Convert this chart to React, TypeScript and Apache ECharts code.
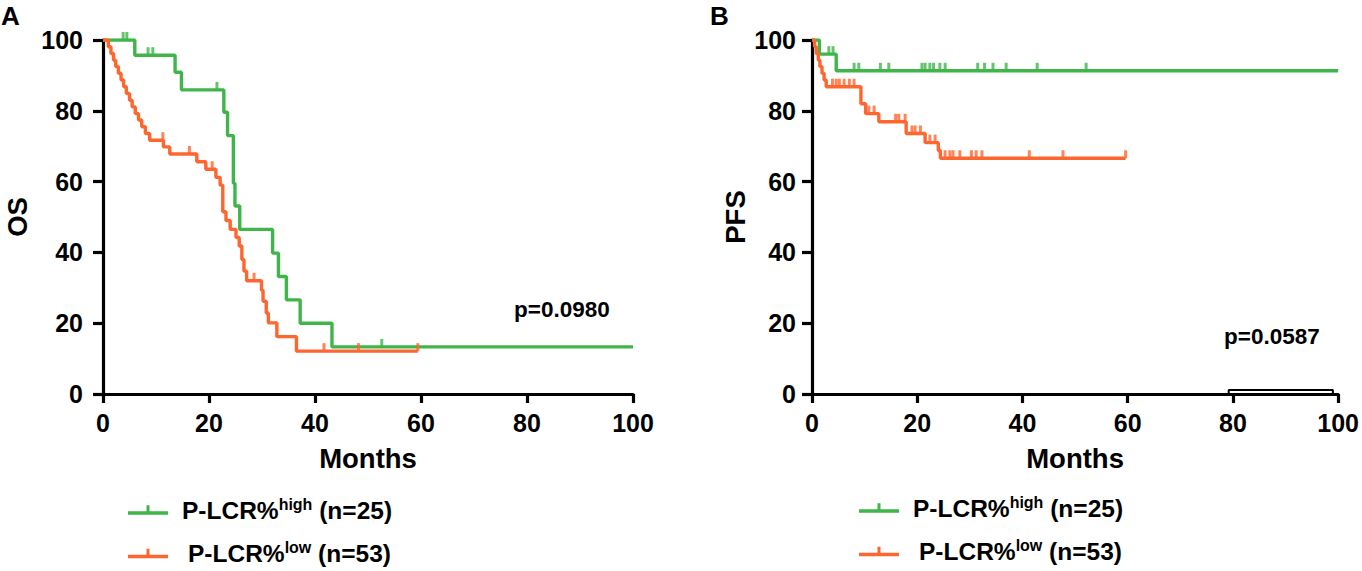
import React, { useEffect, useRef } from "react";
import * as echarts from "echarts";

// ---------- data ----------
const xTicks = [0, 20, 40, 60, 80, 100];
const yTicks = [0, 20, 40, 60, 80, 100];

const NAME_HIGH = "P-LCR%high (n=25)";
const NAME_LOW = "P-LCR%low (n=53)";

// OS, P-LCR% high: [month, survival % after the drop]
const osHigh = [
  [0, 100], [6.0, 95.7], [13.6, 90.9], [14.8, 85.9], [22.8, 79.6], [23.5, 73.0],
  [24.6, 59.5], [24.9, 53.1], [25.8, 46.5], [32.0, 39.8], [33.1, 33.2], [34.6, 26.6],
  [37.2, 20.0], [43.2, 13.3], [100, 13.3],
];
const osHighCensor = [3.8, 4.5, 8.5, 9.4, 21.5, 52.6];

// OS, P-LCR% low
const osLow = [
  [0, 100], [1.0, 98.1], [1.5, 96.2], [2.0, 94.3], [2.4, 92.5], [2.9, 90.6], [3.4, 88.7],
  [3.9, 86.8], [4.4, 84.9], [5.0, 83.0], [5.5, 81.1], [6.1, 79.2], [6.7, 77.4], [7.3, 75.5],
  [8.0, 73.6], [8.8, 71.7], [11.4, 69.8], [12.6, 67.8], [17.7, 65.6], [19.4, 63.5],
  [21.3, 61.2], [22.1, 59.0], [22.6, 51.5], [23.2, 49.0], [24.0, 46.5], [25.1, 44.2],
  [25.7, 41.8], [26.2, 38.0], [26.6, 34.7], [27.1, 32.0], [29.9, 29.3], [30.2, 26.2],
  [30.8, 22.9], [31.2, 20.1], [32.8, 16.2], [36.5, 12.1], [59.4, 12.1],
];
const osLowCensor = [11.3, 16.3, 20.6, 28.5, 41.7, 48.2, 59.4];

// PFS, P-LCR% high
const pfsHigh = [[0, 100], [1.4, 96.0], [4.6, 91.3], [100, 91.3]];
const pfsHighCensor = [
  3.2, 4.0, 8.0, 8.9, 13.0, 14.6, 20.9, 21.5, 22.4, 23.1, 24.3, 25.3, 31.5, 32.8, 34.4,
  36.9, 42.8, 52.1,
];

// PFS, P-LCR% low
const pfsLow = [
  [0, 100], [0.5, 98.1], [0.8, 96.2], [1.2, 94.3], [1.5, 92.5], [1.9, 90.6], [2.3, 88.7],
  [2.7, 86.8], [9.3, 82.0], [10.2, 79.2], [12.7, 76.9], [17.9, 73.6], [21.5, 71.0],
  [24.0, 68.8], [24.4, 66.6], [59.6, 66.6],
];
const pfsLowCensor = [
  3.9, 4.6, 5.2, 6.1, 7.1, 8.0, 10.8, 11.8, 15.9, 16.5, 17.7, 19.0, 19.6, 20.6, 22.4, 23.4,
  25.3, 26.2, 26.8, 28.1, 30.3, 31.2, 32.3, 41.3, 47.7, 59.6,
];

// small black segment seen near the PFS x-axis
const pfsBlack = [[79.2, 0], [79.2, 1.1], [99.0, 1.1], [99.0, 0]];

const pValues = ["p=0.0980", "p=0.0587"];

// ---------- styles ----------
const GREEN = "#3fb54a";
const ORANGE = "#fe6630";
const FONT = "'Liberation Sans', Arial, Helvetica, sans-serif";

function valueAt(curve: number[][], t: number): number {
  let v = curve[0][1];
  for (const [x, y] of curve) {
    if (x <= t) v = y;
    else break;
  }
  return v;
}

function censorPoints(curve: number[][], times: number[]) {
  return times.map((t) => [t, valueAt(curve, t)]);
}

const TICK_ICON = "path://M0,6H40V9.5H0Z M18.5,0H21.5V6H18.5Z";

function xAxis(gridIndex: number) {
  return {
    type: "value",
    gridIndex,
    min: xTicks[0],
    max: xTicks[xTicks.length - 1],
    interval: xTicks[1] - xTicks[0],
    name: "Months",
    nameLocation: "middle",
    nameGap: 50,
    nameTextStyle: { fontSize: 27.5, fontWeight: "bold", color: "#000", fontFamily: FONT },
    axisLine: { lineStyle: { color: "#000", width: 3.2 } },
    axisTick: { length: 9, lineStyle: { color: "#000", width: 3.2 } },
    axisLabel: { margin: 16, fontSize: 25, fontWeight: "bold", color: "#000", fontFamily: FONT },
    splitLine: { show: false },
  };
}

function yAxis(gridIndex: number, name: string, margin: number, nameGap: number) {
  return {
    type: "value",
    gridIndex,
    min: yTicks[0],
    max: yTicks[yTicks.length - 1],
    interval: yTicks[1] - yTicks[0],
    name,
    nameLocation: "middle",
    nameGap,
    nameTextStyle: { fontSize: 27.5, fontWeight: "bold", color: "#000", fontFamily: FONT },
    axisLine: { onZero: false, lineStyle: { color: "#000", width: 3.2 } },
    axisTick: { length: 10, lineStyle: { color: "#000", width: 3.2 } },
    axisLabel: { margin, fontSize: 25, fontWeight: "bold", color: "#000", fontFamily: FONT },
    splitLine: { show: false },
  };
}

function curveSeries(name: string, data: number[][], color: string, axisIndex: number) {
  return {
    type: "line",
    name,
    xAxisIndex: axisIndex,
    yAxisIndex: axisIndex,
    data,
    step: "end",
    symbol: "none",
    showSymbol: false,
    lineStyle: { color, width: 3.4 },
    itemStyle: { color },
    z: 3,
  };
}

function censorSeries(name: string, data: number[][], color: string, axisIndex: number) {
  return {
    type: "scatter",
    name,
    xAxisIndex: axisIndex,
    yAxisIndex: axisIndex,
    data,
    symbol: "rect",
    symbolSize: [3, 8],
    symbolOffset: [0, -4],
    itemStyle: { color },
    z: 4,
  };
}

function legend(left: number, top: number) {
  return {
    left,
    top,
    padding: 0,
    orient: "vertical",
    itemWidth: 40,
    itemHeight: 9.5,
    itemGap: 17,
    selectedMode: false,
    data: [
      { name: NAME_HIGH, icon: TICK_ICON },
      { name: NAME_LOW, icon: TICK_ICON },
    ],
    formatter: (n: string) =>
      n === NAME_HIGH
        ? "{g|}{a|P-LCR%}{s|high}{a| (n=25)}"
        : "{h|}{a|P-LCR%}{s|low}{a| (n=53)}",
    textStyle: {
      rich: {
        g: { width: 9 },
        h: { width: 15 },
        a: { fontSize: 24.5, fontWeight: "bold", color: "#000", fontFamily: FONT, lineHeight: 28 },
        s: {
          fontSize: 16,
          fontWeight: "bold",
          color: "#000",
          fontFamily: FONT,
          lineHeight: 16,
          verticalAlign: "top",
        },
      },
    },
  };
}

export default function App() {
  const ref = useRef<HTMLDivElement>(null);

  useEffect(() => {
    if (!ref.current) return;
    const chart = echarts.init(ref.current, undefined, { renderer: "svg" });
    const textStyle = (fontSize: number) => ({
      fontSize,
      fontWeight: "bold",
      fill: "#000",
      fontFamily: FONT,
    });
    chart.setOption({
      animation: false,
      backgroundColor: "#fff",
      grid: [
        { left: 103, top: 40, width: 530, height: 354 },
        { left: 812, top: 40, width: 531, height: 354 },
      ],
      xAxis: [xAxis(0), xAxis(1)],
      yAxis: [yAxis(0, "OS", 20, 72), yAxis(1, "PFS", 16, 63)],
      legend: [legend(128, 496), legend(859, 494)],
      series: [
        curveSeries(NAME_HIGH, osHigh, GREEN, 0),
        curveSeries(NAME_LOW, osLow, ORANGE, 0),
        censorSeries("os-high-censored", censorPoints(osHigh, osHighCensor), GREEN, 0),
        censorSeries("os-low-censored", censorPoints(osLow, osLowCensor), ORANGE, 0),
        curveSeries(NAME_HIGH, pfsHigh, GREEN, 1),
        curveSeries(NAME_LOW, pfsLow, ORANGE, 1),
        censorSeries("pfs-high-censored", censorPoints(pfsHigh, pfsHighCensor), GREEN, 1),
        censorSeries("pfs-low-censored", censorPoints(pfsLow, pfsLowCensor), ORANGE, 1),
        {
          type: "line",
          name: "pfs-black",
          xAxisIndex: 1,
          yAxisIndex: 1,
          data: pfsBlack,
          symbol: "none",
          lineStyle: { color: "#000", width: 2 },
          z: 2,
        },
      ],
      graphic: [
        { type: "text", left: 1, top: 3, style: { ...textStyle(26), text: "A" } },
        { type: "text", left: 710, top: 3, style: { ...textStyle(26), text: "B" } },
        { type: "text", left: 514, top: 298, style: { ...textStyle(22.5), text: pValues[0] } },
        { type: "text", left: 1224, top: 325, style: { ...textStyle(22.5), text: pValues[1] } },
      ],
    });
    return () => chart.dispose();
  }, []);

  return (
    <div
      ref={ref}
      style={{ position: "fixed", left: 0, top: 0, width: 1362, height: 571, background: "#fff" }}
    />
  );
}
